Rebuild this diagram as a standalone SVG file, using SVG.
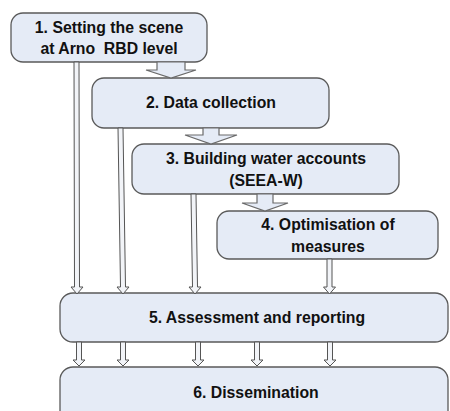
<svg xmlns="http://www.w3.org/2000/svg" width="450" height="411" viewBox="0 0 450 411">
<style>
.box{fill:#e5ebf6;stroke:#5a5a5a;stroke-width:1.3}
.t{font-family:"Liberation Sans",Arial,sans-serif;font-weight:bold;font-size:15.8px;fill:#111;text-anchor:middle}
.blk{fill:#e5ebf6;stroke:#6a6a6a;stroke-width:1.2;stroke-linejoin:miter}
.thin{fill:#f2f4f8;stroke:#555;stroke-width:1}
</style>
<rect width="450" height="411" fill="#fff"/>
<g id="node1"><rect class="box" x="11" y="13" width="196" height="49" rx="12"/><text class="t" x="109" y="33">1. Setting the scene</text><text class="t" x="109" y="54">at Arno&#160; RBD level</text></g>
<g id="node2"><rect class="box" x="92" y="78" width="237" height="50" rx="12"/><text class="t" x="211" y="108">2. Data collection</text></g>
<g id="node3"><rect class="box" x="132" y="144" width="267" height="50" rx="12"/><text class="t" x="266" y="164">3. Building water accounts</text><text class="t" x="266" y="186">(SEEA-W)</text></g>
<g id="node4"><rect class="box" x="217" y="211" width="221" height="48" rx="12"/><text class="t" x="328" y="230">4. Optimisation of</text><text class="t" x="328" y="252">measures</text></g>
<g id="node5"><rect class="box" x="60" y="293" width="388" height="49" rx="13"/><text class="t" x="257" y="323">5. Assessment and reporting</text></g>
<g id="node6"><rect class="box" x="60" y="367" width="388" height="60" rx="13"/><text class="t" x="256" y="398">6. Dissemination</text></g>
<g id="connectors">
<polygon class="blk" points="157,62 185,62 185,70 196,70 171,78 146,70 157,70 157,62"/>
<polygon class="blk" points="203,128 219,128 219,135 237,135 211,144 185,135 203,135"/>
<polygon class="blk" points="257,194 273,194 273,203 288,203 265,211 242,203 257,203"/>
<polygon class="thin" points="74,62 79,62 79.5,287 83,287 77,294 71,287 74.5,287"/>
<polygon class="thin" points="118,128 123,128 125.5,287 129,287 123,294 117,287 120.5,287"/>
<polygon class="thin" points="191,194 196,194 197.5,287 201,287 195,294 189,287 192.5,287"/>
<polygon class="thin" points="327,259 332,259 332,287 335.5,287 329.5,294 323.5,287 327,287"/>
<polygon class="thin" points="76.5,342 81.5,342 81.5,360 85,360 79,366 73,360 76.5,360"/>
<polygon class="thin" points="120.5,342 125.5,342 125.5,360 129,360 123,366 117,360 120.5,360"/>
<polygon class="thin" points="195.5,342 200.5,342 200.5,360 204,360 198,366 192,360 195.5,360"/>
<polygon class="thin" points="254.5,342 259.5,342 259.5,360 263,360 257,366 251,360 254.5,360"/>
<polygon class="thin" points="327.5,342 332.5,342 332.5,360 336,360 330,366 324,360 327.5,360"/>
</g>
</svg>
